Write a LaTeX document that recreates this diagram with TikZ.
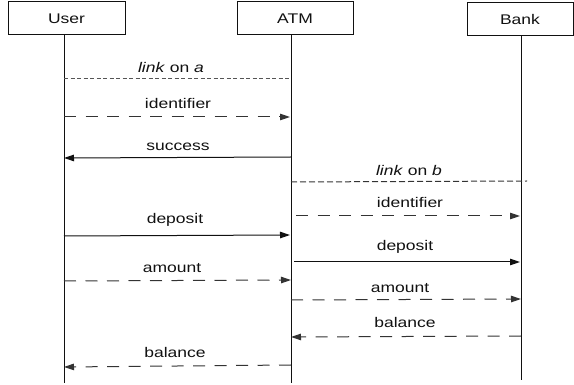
\documentclass[tikz,border=0pt]{standalone}
\usepackage{fontspec}
\setmainfont{Liberation Sans}
\newfontfamily\labfont[FakeStretch=1.25]{Liberation Sans}
\usetikzlibrary{arrows.meta}
\definecolor{ink}{HTML}{111111}
\definecolor{dashgray}{HTML}{333333}
\definecolor{linkgray}{HTML}{555555}
\begin{document}
\begin{tikzpicture}[x=1pt,y=-1pt,
  font=\labfont\fontsize{14}{16}\selectfont,
  actor/.style={draw=ink,line width=1pt,minimum height=33pt,inner sep=0pt,text=ink},
  life/.style={draw=ink,line width=1pt},
  lbl/.style={inner sep=0pt,text=ink},
  tip/.style={-{Triangle[length=10pt,width=6.5pt]}},
  solidmsg/.style={tip,draw=ink,line width=1pt},
  dashmsg/.style={tip,draw=dashgray,line width=1pt,dash pattern=on 12pt off 9.5pt},
  linkmsg/.style={draw=linkgray,line width=1pt,dash pattern=on 4pt off 2.5pt},
  linkmsgb/.style={draw=dashgray,line width=1pt,dash pattern=on 6pt off 3pt}]
\useasboundingbox (0,0) rectangle (574,385);
% actors
\node[actor,minimum width=117pt] (user) at (66.5,18.5) {User};
\node[actor,minimum width=116pt] (atm) at (295,18.5) {ATM};
\node[actor,minimum width=106pt] (bank) at (520,19) {Bank};
% lifelines
\coordinate (uT) at (64,35);
\coordinate (uB) at (64,383);
\coordinate (aT) at (291,35);
\coordinate (aB) at (291,383);
\coordinate (bT) at (521,36);
\coordinate (bB) at (521,380);
\draw[life] (uT) -- (uB);
\draw[life] (aT) -- (aB);
\draw[life] (bT) -- (bB);
% message end points
\coordinate (m1a) at (64,79);   \coordinate (m1b) at (291,79);
\coordinate (m2a) at (64,117);  \coordinate (m2b) at (290,117);
\coordinate (m3a) at (291,157); \coordinate (m3b) at (64,158);
\coordinate (m4a) at (291,182); \coordinate (m4b) at (527,181);
\coordinate (m5a) at (296,216); \coordinate (m5b) at (520,216);
\coordinate (m6a) at (64,236);  \coordinate (m6b) at (290,235);
\coordinate (m7a) at (294,262); \coordinate (m7b) at (520,262);
\coordinate (m8a) at (64,281);  \coordinate (m8b) at (291,280);
\coordinate (m9a) at (291,300); \coordinate (m9b) at (521,299);
\coordinate (m10a) at (521,336); \coordinate (m10b) at (291,337);
\coordinate (m11a) at (291,365); \coordinate (m11b) at (64,367);
% messages
\draw[linkmsg] (m1a) -- (m1b);
\draw[dashmsg] (m2a) -- (m2b);
\draw[solidmsg] (m3a) -- (m3b);
\draw[linkmsgb] (m4a) -- (m4b);
\draw[dashmsg] (m5a) -- (m5b);
\draw[solidmsg] (m6a) -- (m6b);
\draw[solidmsg] (m7a) -- (m7b);
\draw[dashmsg] (m8a) -- (m8b);
\draw[dashmsg] (m9a) -- (m9b);
\draw[dashmsg] (m10a) -- (m10b);
\draw[dashmsg] (m11a) -- (m11b);
% labels
\node[lbl] (l1) at (171,67) {\textit{link} on \textit{a}};
\node[lbl] (l2) at (178,103) {identifier};
\node[lbl] (l3) at (178,147) {success};
\node[lbl] (l4) at (409,170) {\textit{link} on \textit{b}};
\node[lbl] (l5) at (410,202) {identifier};
\node[lbl] (l6) at (175,220) {deposit};
\node[lbl] (l7) at (405,247) {deposit};
\node[lbl] (l8) at (172,268) {amount};
\node[lbl] (l9) at (400,288) {amount};
\node[lbl] (l10) at (405,322) {balance};
\node[lbl] (l11) at (175,352) {balance};
\end{tikzpicture}
\end{document}
